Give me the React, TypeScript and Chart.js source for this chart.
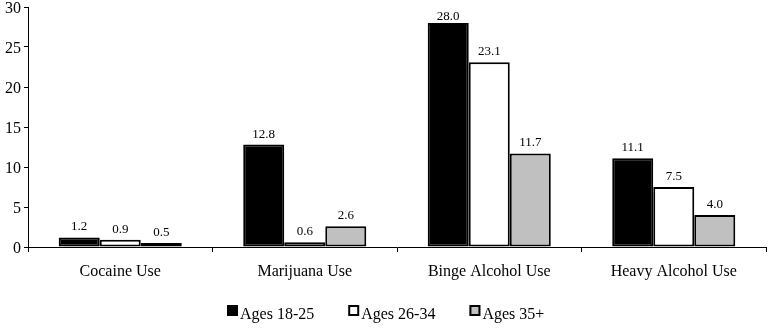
import React, { useEffect, useRef } from "react";
import { Chart, registerables } from "chart.js";

Chart.register(...registerables);

const categories = ["Cocaine Use", "Marijuana Use", "Binge Alcohol Use", "Heavy Alcohol Use"];
const seriesNames = ["Ages 18-25", "Ages 26-34", "Ages 35+"];
const ages18to25 = [1.2, 12.8, 28.0, 11.1];
const ages26to34 = [0.9, 0.6, 23.1, 7.5];
const ages35plus = [0.5, 2.6, 11.7, 4.0];
const fills = ["#000000", "#ffffff", "#c0c0c0"];
const FONT = "'Liberation Serif', 'Times New Roman', serif";

const valueLabels = {
  id: "valueLabels",
  afterDatasetsDraw(chart: any) {
    const ctx = chart.ctx;
    ctx.save();
    ctx.font = `13px ${FONT}`;
    ctx.fillStyle = "#000";
    ctx.textAlign = "center";
    ctx.textBaseline = "alphabetic";
    chart.data.datasets.forEach((ds: any, i: number) => {
      const meta = chart.getDatasetMeta(i);
      meta.data.forEach((el: any, j: number) => {
        const y = Math.max(el.y - 7, chart.chartArea.top + 13);
        ctx.fillText(Number(ds.data[j]).toFixed(1), el.x, y);
      });
    });
    ctx.restore();
  },
};

const customLegend = {
  id: "customLegend",
  afterDraw(chart: any) {
    const ctx = chart.ctx;
    ctx.save();
    ctx.font = `16px ${FONT}`;
    ctx.textBaseline = "alphabetic";
    ctx.textAlign = "left";
    const box = 11;
    const gap = 2;
    const spacing = 34;
    const widths = chart.data.datasets.map((d: any) => box + gap + ctx.measureText(d.label).width);
    const total = widths.reduce((a: number, b: number) => a + b, 0) + spacing * (widths.length - 1);
    let x = Math.round((chart.width - total) / 2);
    const y = 305;
    chart.data.datasets.forEach((d: any, i: number) => {
      ctx.fillStyle = d.backgroundColor;
      ctx.fillRect(x, y, box, box);
      ctx.strokeStyle = "#000";
      ctx.lineWidth = 2;
      ctx.strokeRect(x + 1, y + 1, box - 2, box - 2);
      ctx.fillStyle = "#000";
      ctx.fillText(d.label, x + box + gap, y + 14);
      x += widths[i] + spacing;
    });
    ctx.restore();
  },
};

export default function App() {
  const ref = useRef<HTMLCanvasElement>(null);
  useEffect(() => {
    document.body.style.margin = "0";
    const data = [ages18to25, ages26to34, ages35plus];
    const chart = new Chart(ref.current!, {
      type: "bar",
      data: {
        labels: categories,
        datasets: seriesNames.map((name, i) => ({
          label: name,
          data: data[i],
          backgroundColor: fills[i],
          borderColor: "#000",
          borderWidth: 2,
          borderSkipped: false,
          barPercentage: 1,
          categoryPercentage: 0.667,
        })),
      },
      options: {
        animation: false,
        responsive: false,
        maintainAspectRatio: false,
        layout: { padding: { top: 0, right: 6, left: 0, bottom: 0 } },
        plugins: { legend: { display: false }, tooltip: { enabled: false } },
        scales: {
          x: {
            grid: { display: true, drawOnChartArea: false, color: "#000", tickLength: 5, offset: true },
            border: { display: true, color: "#000", width: 1 },
            ticks: { color: "#000", font: { family: FONT, size: 16 }, padding: 10 },
            afterFit(scale: any) {
              scale.height = 83;
            },
          },
          y: {
            min: 0,
            max: 30,
            ticks: {
              stepSize: 5,
              color: "#000",
              font: { family: FONT, size: 16, lineHeight: 0.5 },
              padding: 3,
              labelOffset: 2,
            },
            grid: { display: true, drawOnChartArea: false, color: "#000", tickLength: 4 },
            border: { display: true, color: "#000", width: 1 },
            afterFit(scale: any) {
              scale.width = 28;
            },
          },
        },
      },
      plugins: [valueLabels, customLegend],
    });
    return () => chart.destroy();
  }, []);
  return (
    <div style={{ position: "absolute", left: 0, top: 0, width: 772, height: 330, background: "#fff" }}>
      <canvas ref={ref} width={772} height={330} style={{ width: 772, height: 330 }} />
    </div>
  );
}
